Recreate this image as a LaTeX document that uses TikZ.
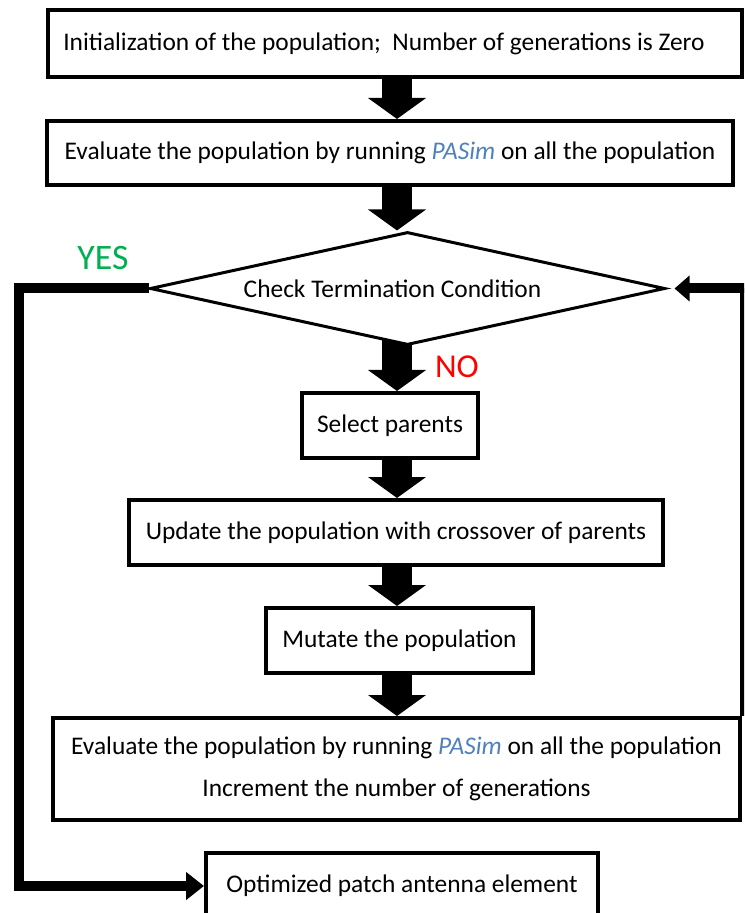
\documentclass[tikz,border=0pt]{standalone}
\usepackage{fontspec}
\setmainfont{Carlito}
\usetikzlibrary{arrows.meta}
\usetikzlibrary{shapes.geometric}
\usetikzlibrary{backgrounds}
\definecolor{pasimblue}{RGB}{79,129,189}
\definecolor{yesgreen}{RGB}{0,176,80}
\newcommand{\pasim}{\textcolor{pasimblue}{\textit{PASim}}}

\begin{document}
\begin{tikzpicture}[x=0.5pt,y=-0.5pt]
\fontsize{12.7}{21}\selectfont
\tikzstyle{box}=[rectangle, draw=black, line width=2pt, fill=white, inner sep=0pt, align=center]
\tikzstyle{cond}=[diamond, aspect=4.56, draw=black, line width=1.5pt, fill=white, inner sep=0pt, minimum width=257.5pt, minimum height=56.5pt]
\tikzstyle{fat}=[line width=15pt, -{Triangle[length=10.5pt,width=28.5pt]}]
\tikzstyle{loop}=[line width=5pt, line join=miter]
\useasboundingbox (0,0) rectangle (744,913);
\clip (0,0) rectangle (744,913);
\node[box, minimum width=347pt, minimum height=33.5pt] (init) at (395,43.5) {\hspace*{-11pt}Initialization of the population;\ \ Number of generations is Zero};
\node[box, minimum width=343pt, minimum height=32pt] (ev1) at (390,153) {Evaluate the population by running \pasim{} on all the population};
\node[cond] (dia) at (407.5,288.5) {\hspace*{-15pt}Check Termination Condition};
\node[box, minimum width=88pt, minimum height=32.5pt] (sel) at (390,425.5) {Select parents};
\node[box, minimum width=267pt, minimum height=32.5pt] (upd) at (396,532.5) {Update the population with crossover of parents};
\node[box, minimum width=133.5pt, minimum height=32.5pt] (mut) at (399.5,640.5) {Mutate the population};
\node[box, minimum width=343.5pt, minimum height=51pt] (ev2) at (396.5,769) {Evaluate the population by running \pasim{} on all the population\\Increment the number of generations};
\node[box, minimum width=196pt, minimum height=33pt, anchor=north west] (opt) at (204,851) {Optimized patch antenna element};
\node[text=yesgreen, font=\fontsize{17.9}{20}\selectfont] (yes) at (103,258) {YES};
\node[text=red, font=\fontsize{16.7}{20}\selectfont] (no) at (457,367) {NO};
\coordinate (ax) at (397,0);
\coordinate (yl) at (19,0);
\begin{scope}[on background layer]
\foreach \a/\b in {init/ev1,ev1/dia,dia/sel,sel/upd,upd/mut,mut/ev2}
    \draw[fat] (\a.center -| ax) -- (\b.north -| ax);
\end{scope}
\draw[loop, -{Triangle[length=9pt,width=13.5pt]}] (dia.west) -- (dia.west -| yl) |- (opt.west);
\draw[line width=2.5pt] (ev2.north east) -- (ev2.north east |- dia.east);
\draw[loop, -{Triangle[length=7.5pt,width=12.5pt]}] ([xshift=1.25pt]ev2.north east |- dia.east) -- ([xshift=4pt]dia.east);
\end{tikzpicture}
\end{document}
